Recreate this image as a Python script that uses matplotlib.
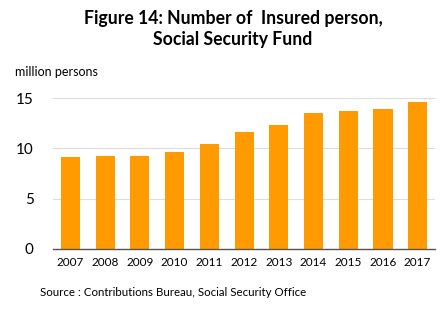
import matplotlib.pyplot as plt
import numpy as np

years = ["2007", "2008", "2009", "2010", "2011", "2012", "2013", "2014", "2015", "2016", "2017"]
insured = [9.15, 9.25, 9.25, 9.65, 10.45, 11.65, 12.35, 13.5, 13.7, 13.9, 14.6]
yticks = [0, 5, 10, 15]

plt.rcParams['font.family'] = ['Lato', 'DejaVu Sans']

fig = plt.figure(figsize=(4.43, 3.28), dpi=100)
ax = fig.add_axes([0.12, 0.241, 0.862, 0.466])

x = np.arange(len(years))
ax.bar(x, insured, width=0.55, color="#FF9B00", zorder=3)

ax.set_xlim(-0.5, len(years) - 0.5)
ax.set_ylim(0, 15.2)
ax.set_yticks(yticks)
ax.set_xticks(x)
ax.set_xticklabels(years, fontsize=8.5)
ax.tick_params(axis='y', labelsize=11, length=0, pad=14)
ax.tick_params(axis='x', length=0, pad=6)
ax.grid(axis='y', color="#DDDDDD", linewidth=0.8, zorder=0)

for s in ["top", "right", "left"]:
    ax.spines[s].set_visible(False)
ax.spines["bottom"].set_color("#555555")
ax.spines["bottom"].set_linewidth(1.0)
ax.spines["bottom"].set_zorder(4)

fig.text(0.526, 0.912, "Figure 14: Number of  Insured person,\nSocial Security Fund",
         ha="center", va="center", fontsize=12.7, fontweight="bold", linespacing=1.3)
fig.text(0.034, 0.78, "million persons", ha="left", va="center", fontsize=9)
fig.text(0.09, 0.107, "Source : Contributions Bureau, Social Security Office",
         ha="left", va="center", fontsize=8.3)

fig.savefig("out.png", dpi=100)
